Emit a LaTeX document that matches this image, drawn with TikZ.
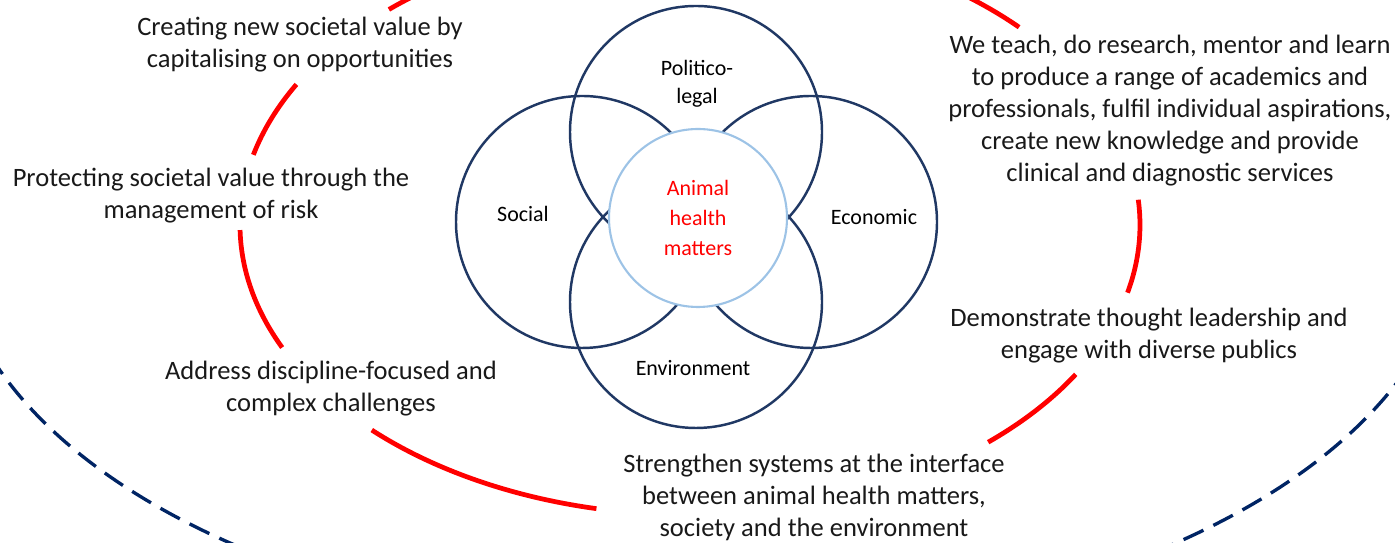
\documentclass[tikz,border=0pt]{standalone}
\usepackage{fontspec}
\setmainfont{Carlito}
\usetikzlibrary{positioning}
\definecolor{navy}{RGB}{32,56,100}
\definecolor{dashnavy}{RGB}{0,36,100}
\definecolor{paleblue}{RGB}{157,195,230}

\begin{document}
\begin{tikzpicture}[
  venn/.style={circle,draw=navy,line width=1.4pt,minimum size=5.04cm,inner sep=0pt},
  vtxt/.style={font=\fontsize{12.5}{16}\selectfont,align=center},
  goal/.style={font=\fontsize{15.1}{18.2}\selectfont,align=center,text=black!90},
  redarc/.style={red,line width=2.7pt},
]
\useasboundingbox (0,0) rectangle (27.9,10.86);
\clip (0,0) rectangle (27.9,10.86);

% outer dashed ring
\draw[dashnavy,line width=1.9pt,dash pattern=on 0.44cm off 0.22cm] (14.06,6.36) ++(190:15.04 and 8.18) arc[start angle=190,end angle=350,x radius=15.04,y radius=8.18];

% red ring, broken where the texts sit
\foreach \from/\to in {100/132,151/166,181/205,225/258,311.5/329,346.5/365,43/70}
  \draw[redarc] (13.8,6.36) ++(\from:9 and 5.8) arc[start angle=\from,end angle=\to,x radius=9,y radius=5.8];

\node[venn] (pol) at (13.92,8.22) {};
\node[venn] (env) at (13.92,4.82) {};
\node[venn] (soc) at (11.64,6.42) {};
\node[venn] (eco) at (16.22,6.42) {};
\node[circle,draw=paleblue,line width=1.2pt,fill=white,minimum size=3.56cm,inner sep=0pt,text=red,align=center,font=\fontsize{12.5}{17}\selectfont] (core) at (13.96,6.5) {Animal\\health\\matters};

\node[vtxt] (polt) at (13.94,9.18) {Politico-\\legal};
\node[vtxt] (soct) at (10.46,6.58) {Social};
\node[vtxt] (ecot) at (17.48,6.52) {Economic};
\node[vtxt] (envt) at (13.86,3.5) {Environment};

\node[goal] (create) at (6.0,9.96) {Creating new societal value by\\capitalising on opportunities};
\node[goal] (protect) at (4.22,6.95) {Protecting societal value through the\\management of risk};
\node[goal] (address) at (6.62,3.08) {Address discipline-focused and\\complex challenges};
\node[goal] (strengthen) at (16.28,0.92) {Strengthen systems at the interface\\between animal health matters,\\society and the environment};
\node[goal] (teach) at (23.4,8.64) {We teach, do research, mentor and learn\\to produce a range of academics and\\professionals, fulfil individual aspirations,\\create new knowledge and provide\\clinical and diagnostic services};
\node[goal] (demo) at (22.98,4.14) {Demonstrate thought leadership and\\engage with diverse publics};
\end{tikzpicture}
\end{document}
